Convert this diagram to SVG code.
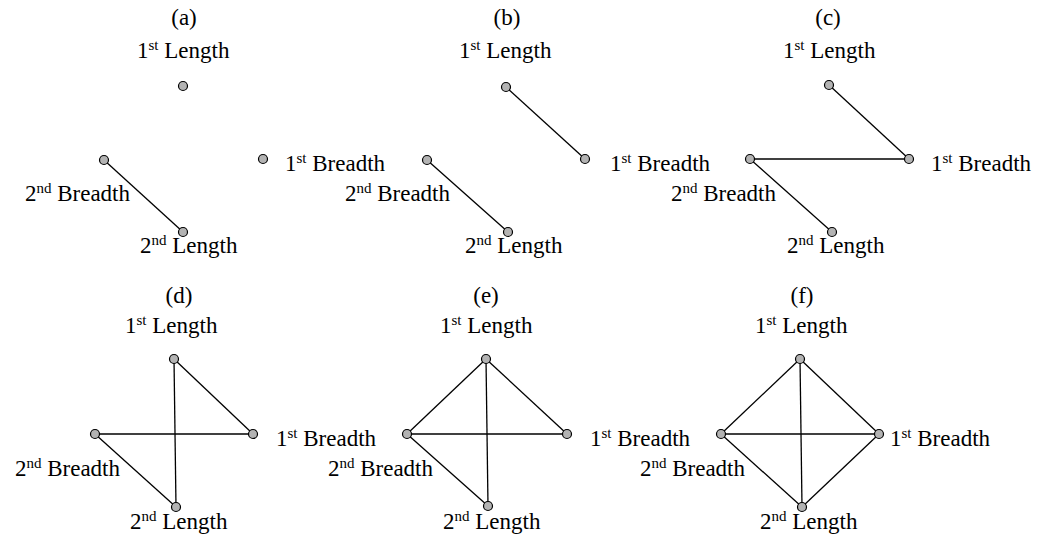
<svg xmlns="http://www.w3.org/2000/svg" width="1045" height="540" viewBox="0 0 1045 540">
<style>
text{font-family:"Liberation Serif","Times New Roman",serif;font-size:23px;fill:#000}
.t{text-anchor:middle}
.e{text-anchor:end}
.sup{font-size:15px}
.n{fill:#b3b3b3;stroke:#000;stroke-width:1.2}
.c line{stroke:#000;stroke-width:1.3}
</style>
<rect width="1045" height="540" fill="#fff"/>
<!-- connectors -->
<g id="connectors" class="c">
<line x1="104" y1="160" x2="183" y2="232"/>
<line x1="506" y1="87" x2="585" y2="159"/>
<line x1="427" y1="160" x2="508" y2="232"/>
<line x1="829" y1="85" x2="909" y2="159"/>
<line x1="750" y1="159" x2="909" y2="159"/>
<line x1="750" y1="159" x2="832" y2="232"/>
<line x1="174" y1="359" x2="253" y2="434"/>
<line x1="95" y1="434" x2="253" y2="434"/>
<line x1="95" y1="434" x2="176" y2="507"/>
<line x1="174" y1="359" x2="176" y2="507"/>
<line x1="486" y1="359" x2="567" y2="434"/>
<line x1="407" y1="434" x2="567" y2="434"/>
<line x1="407" y1="434" x2="488" y2="506"/>
<line x1="486" y1="359" x2="488" y2="506"/>
<line x1="486" y1="359" x2="407" y2="434"/>
<line x1="800" y1="359" x2="879" y2="434"/>
<line x1="721" y1="434" x2="879" y2="434"/>
<line x1="721" y1="434" x2="802" y2="507"/>
<line x1="800" y1="359" x2="802" y2="507"/>
<line x1="800" y1="359" x2="721" y2="434"/>
<line x1="879" y1="434" x2="802" y2="507"/>
</g>
<!-- panel a -->
<g id="panel-a">
<text class="t" x="184" y="25">(a)</text>
<g id="a-L1"><circle class="n" cx="183" cy="86" r="4.5"/><text x="137" y="58">1<tspan class="sup" dy="-8">st</tspan><tspan dy="8"> Length</tspan></text></g>
<g id="a-B1"><circle class="n" cx="263" cy="159" r="4.5"/><text x="285" y="171">1<tspan class="sup" dy="-8">st</tspan><tspan dy="8"> Breadth</tspan></text></g>
<g id="a-B2"><circle class="n" cx="104" cy="160" r="4.5"/><text class="e" x="130" y="201">2<tspan class="sup" dy="-8">nd</tspan><tspan dy="8"> Breadth</tspan></text></g>
<g id="a-L2"><circle class="n" cx="183" cy="232" r="4.5"/><text x="140" y="253">2<tspan class="sup" dy="-8">nd</tspan><tspan dy="8"> Length</tspan></text></g>
</g>
<!-- panel b -->
<g id="panel-b">
<text class="t" x="507" y="25">(b)</text>
<g id="b-L1"><circle class="n" cx="506" cy="87" r="4.5"/><text x="459" y="58">1<tspan class="sup" dy="-8">st</tspan><tspan dy="8"> Length</tspan></text></g>
<g id="b-B1"><circle class="n" cx="585" cy="159" r="4.5"/><text x="610" y="171">1<tspan class="sup" dy="-8">st</tspan><tspan dy="8"> Breadth</tspan></text></g>
<g id="b-B2"><circle class="n" cx="427" cy="160" r="4.5"/><text class="e" x="450" y="201">2<tspan class="sup" dy="-8">nd</tspan><tspan dy="8"> Breadth</tspan></text></g>
<g id="b-L2"><circle class="n" cx="508" cy="232" r="4.5"/><text x="465" y="253">2<tspan class="sup" dy="-8">nd</tspan><tspan dy="8"> Length</tspan></text></g>
</g>
<!-- panel c -->
<g id="panel-c">
<text class="t" x="828" y="25">(c)</text>
<g id="c-L1"><circle class="n" cx="829" cy="85" r="4.5"/><text x="783" y="58">1<tspan class="sup" dy="-8">st</tspan><tspan dy="8"> Length</tspan></text></g>
<g id="c-B1"><circle class="n" cx="909" cy="159" r="4.5"/><text x="931" y="171">1<tspan class="sup" dy="-8">st</tspan><tspan dy="8"> Breadth</tspan></text></g>
<g id="c-B2"><circle class="n" cx="750" cy="159" r="4.5"/><text class="e" x="776" y="201">2<tspan class="sup" dy="-8">nd</tspan><tspan dy="8"> Breadth</tspan></text></g>
<g id="c-L2"><circle class="n" cx="832" cy="232" r="4.5"/><text x="787" y="253">2<tspan class="sup" dy="-8">nd</tspan><tspan dy="8"> Length</tspan></text></g>
</g>
<!-- panel d -->
<g id="panel-d">
<text class="t" x="179" y="303">(d)</text>
<g id="d-L1"><circle class="n" cx="174" cy="359" r="4.5"/><text x="125" y="333">1<tspan class="sup" dy="-8">st</tspan><tspan dy="8"> Length</tspan></text></g>
<g id="d-B1"><circle class="n" cx="253" cy="434" r="4.5"/><text x="276" y="446">1<tspan class="sup" dy="-8">st</tspan><tspan dy="8"> Breadth</tspan></text></g>
<g id="d-B2"><circle class="n" cx="95" cy="434" r="4.5"/><text class="e" x="120" y="476">2<tspan class="sup" dy="-8">nd</tspan><tspan dy="8"> Breadth</tspan></text></g>
<g id="d-L2"><circle class="n" cx="176" cy="507" r="4.5"/><text x="130" y="529">2<tspan class="sup" dy="-8">nd</tspan><tspan dy="8"> Length</tspan></text></g>
</g>
<!-- panel e -->
<g id="panel-e">
<text class="t" x="486" y="303">(e)</text>
<g id="e-L1"><circle class="n" cx="486" cy="359" r="4.5"/><text x="440" y="333">1<tspan class="sup" dy="-8">st</tspan><tspan dy="8"> Length</tspan></text></g>
<g id="e-B1"><circle class="n" cx="567" cy="434" r="4.5"/><text x="590" y="446">1<tspan class="sup" dy="-8">st</tspan><tspan dy="8"> Breadth</tspan></text></g>
<g id="e-B2"><circle class="n" cx="407" cy="434" r="4.5"/><text class="e" x="433" y="476">2<tspan class="sup" dy="-8">nd</tspan><tspan dy="8"> Breadth</tspan></text></g>
<g id="e-L2"><circle class="n" cx="488" cy="506" r="4.5"/><text x="443" y="529">2<tspan class="sup" dy="-8">nd</tspan><tspan dy="8"> Length</tspan></text></g>
</g>
<!-- panel f -->
<g id="panel-f">
<text class="t" x="802" y="303">(f)</text>
<g id="f-L1"><circle class="n" cx="800" cy="359" r="4.5"/><text x="755" y="333">1<tspan class="sup" dy="-8">st</tspan><tspan dy="8"> Length</tspan></text></g>
<g id="f-B1"><circle class="n" cx="879" cy="434" r="4.5"/><text x="890" y="446">1<tspan class="sup" dy="-8">st</tspan><tspan dy="8"> Breadth</tspan></text></g>
<g id="f-B2"><circle class="n" cx="721" cy="434" r="4.5"/><text class="e" x="745" y="476">2<tspan class="sup" dy="-8">nd</tspan><tspan dy="8"> Breadth</tspan></text></g>
<g id="f-L2"><circle class="n" cx="802" cy="507" r="4.5"/><text x="760" y="529">2<tspan class="sup" dy="-8">nd</tspan><tspan dy="8"> Length</tspan></text></g>
</g>
</svg>
